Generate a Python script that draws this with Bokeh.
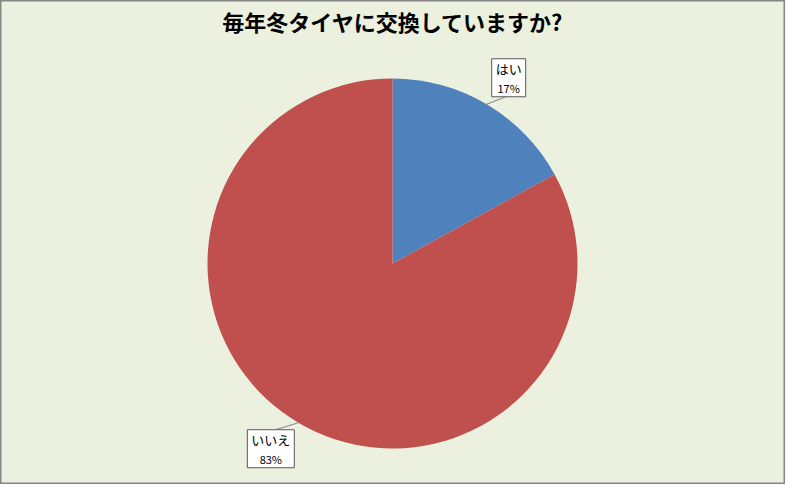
import math
from bokeh.plotting import figure
from bokeh.models import Range1d, ColumnDataSource
from bokeh.core.properties import value
from bokeh.embed import file_html
from bokeh.resources import INLINE

# ---- data ----
title_text = "毎年冬タイヤに交換していますか?"
categories = ["はい", "いいえ"]
shares = [17, 83]
colors = ["#4F81BD", "#C0504D"]

# ---- layout ----
W, H = 785, 484
CX, CY, R = 392, 221, 185
# label box offsets from the slice's mid-edge point (px), and box sizes
label_dx = [22, -27.5]
label_dy = [26.5, -26]
box_w = [34, 47]
box_h = [38, 38]
FONT = "Noto Sans CJK JP"
BG = "#EBF1DE"

p = figure(width=W, height=H, x_range=Range1d(0, W), y_range=Range1d(0, H),
           x_axis_type=None, y_axis_type=None, output_backend="svg",
           toolbar_location=None, min_border=0,
           background_fill_color=BG, border_fill_color=BG,
           outline_line_color="#868686", outline_line_width=2)
p.grid.visible = False

total = float(sum(shares))
starts, ends, mids = [], [], []
cum = 0.0
for s in shares:
    f0 = cum / total
    cum += s
    f1 = cum / total
    starts.append(math.pi / 2 - 2 * math.pi * f1)
    ends.append(math.pi / 2 - 2 * math.pi * f0)
    mids.append(math.pi / 2 - 2 * math.pi * (f0 + f1) / 2)

src = ColumnDataSource(dict(x=[CX] * len(shares), y=[CY] * len(shares),
                            start=starts, end=ends, color=colors))
p.wedge(x="x", y="y", radius=R, start_angle="start", end_angle="end",
        fill_color="color", line_color=None, source=src)

# labels with leader lines
ex = [CX + R * math.cos(a) for a in mids]
ey = [CY + R * math.sin(a) for a in mids]
bx = [ex[i] + label_dx[i] for i in range(len(shares))]
by = [ey[i] + label_dy[i] for i in range(len(shares))]

for i in range(len(shares)):
    # leader line from slice edge to the nearest box edge
    if by[i] > ey[i]:
        ly = by[i] - box_h[i] / 2
        lx = bx[i] - 3
    else:
        ly = by[i] + box_h[i] / 2
        lx = bx[i] + 4.5
    p.line([ex[i], lx], [ey[i], ly], line_color="#8C8C8C", line_width=1.2)

p.rect(x=bx, y=by, width=box_w, height=box_h, fill_color="white",
       line_color="#595959", line_width=1)
p.text(x=bx, y=[b + 9 for b in by], text=categories, text_font=value(FONT),
       text_font_size="13px", text_align="center", text_baseline="middle",
       text_color="black")
p.text(x=bx, y=[b - 10 for b in by], text=[f"{s}%" for s in shares],
       text_font=value(FONT), text_font_size="11px", text_align="center",
       text_baseline="middle", text_color="black")

# title
p.text(x=[W / 2], y=[H - 20], text=[title_text], text_font=value(FONT),
       text_font_size="22px", text_font_style="bold", text_align="center",
       text_baseline="middle", text_color="black")

open("out.html", "w").write(file_html(p, INLINE))
